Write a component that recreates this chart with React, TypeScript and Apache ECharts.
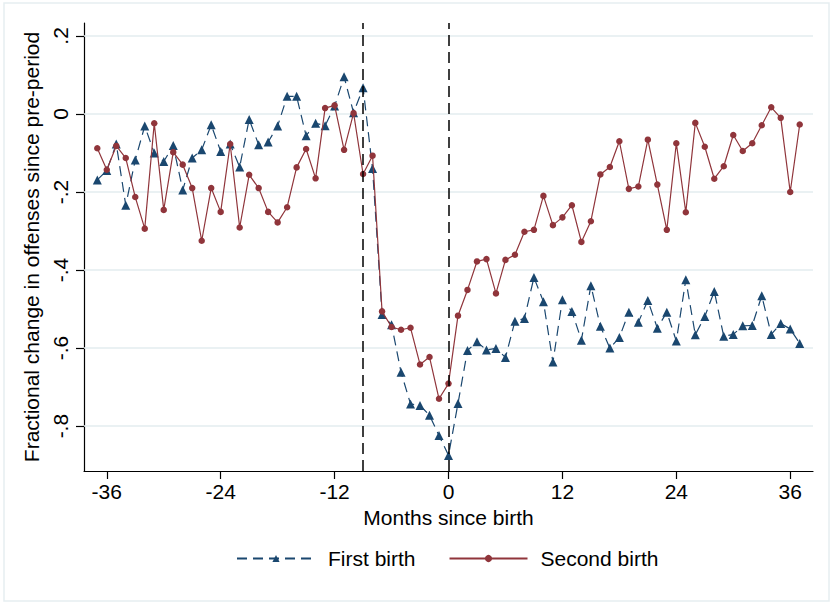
import React, { useEffect, useRef } from "react";
import * as echarts from "echarts";

// Months relative to birth, -37 .. 37
const months: number[] = Array.from({ length: 75 }, (_, i) => i - 37);

const firstBirth: number[] = [
  -0.169, -0.145, -0.077, -0.234, -0.118, -0.031, -0.1, -0.122, -0.081, -0.195,
  -0.113, -0.092, -0.028, -0.096, -0.077, -0.136, -0.014, -0.079, -0.072, -0.031,
  0.045, 0.045, -0.056, -0.024, -0.03, 0.02, 0.095, 0.003, 0.067, -0.14,
  -0.514, -0.54, -0.662, -0.743, -0.747, -0.772, -0.824, -0.875, -0.742, -0.606,
  -0.584, -0.605, -0.601, -0.624, -0.531, -0.524, -0.419, -0.481, -0.636, -0.476,
  -0.506, -0.58, -0.44, -0.544, -0.6, -0.573, -0.508, -0.534, -0.478, -0.549,
  -0.508, -0.582, -0.425, -0.566, -0.519, -0.455, -0.57, -0.565, -0.543, -0.542,
  -0.466, -0.565, -0.537, -0.551, -0.588,
];

const secondBirth: number[] = [
  -0.088, -0.143, -0.082, -0.113, -0.213, -0.294, -0.024, -0.246, -0.098, -0.13,
  -0.19, -0.325, -0.19, -0.251, -0.077, -0.291, -0.156, -0.19, -0.251, -0.278,
  -0.239, -0.137, -0.09, -0.165, 0.015, 0.022, -0.092, 0.002, -0.154, -0.107,
  -0.506, -0.546, -0.553, -0.548, -0.642, -0.623, -0.73, -0.691, -0.517, -0.451,
  -0.378, -0.372, -0.46, -0.374, -0.361, -0.302, -0.297, -0.21, -0.285, -0.265,
  -0.234, -0.328, -0.275, -0.155, -0.136, -0.07, -0.192, -0.186, -0.066, -0.181,
  -0.297, -0.075, -0.252, -0.023, -0.084, -0.166, -0.134, -0.054, -0.095, -0.075,
  -0.029, 0.017, -0.01, -0.2, -0.027,
];

const xTicks: number[] = [-36, -24, -12, 0, 12, 24, 36];
const yTicks: number[] = [-0.8, -0.6, -0.4, -0.2, 0, 0.2];
const yTickLabels: string[] = ["-.8", "-.6", "-.4", "-.2", "0", ".2"];
const eventLines: number[] = [-9, 0];

const FONT = '"Liberation Sans", Arial, sans-serif';
const FS = 21;
const BLUE = "#1a476f";
const RED = "#90353b";

export default function App() {
  const ref = useRef<HTMLDivElement>(null);

  useEffect(() => {
    if (!ref.current) return;
    const chart = echarts.init(ref.current, null, { renderer: "svg" });

    const fmtY = (v: number) => {
      const idx = yTicks.findIndex((t) => Math.abs(t - v) < 1e-6);
      return idx >= 0 ? yTickLabels[idx] : "";
    };

    chart.setOption({
      animation: false,
      backgroundColor: "#ffffff",
      textStyle: { fontFamily: FONT },
      graphic: [
        {
          type: "rect",
          shape: { x: 4, y: 3, width: 825, height: 598 },
          style: { fill: "none", stroke: "#e6eef1", lineWidth: 1.5 },
          silent: true,
        },
      ],
      grid: { left: 84, right: 20, top: 23, bottom: 134 },
      xAxis: {
        type: "value",
        min: -38.4,
        max: 38.4,
        name: "Months since birth",
        nameLocation: "middle",
        nameGap: 29,
        nameTextStyle: { fontSize: FS, color: "#000", fontFamily: FONT },
        axisLine: { show: true, onZero: false, lineStyle: { color: "#000", width: 1.2 } },
        axisTick: { show: true, length: 8, customValues: xTicks, lineStyle: { color: "#000", width: 1.2 } },
        axisLabel: { customValues: xTicks, fontSize: FS, color: "#000", margin: 10, fontFamily: FONT },
        splitLine: { show: false },
      },
      yAxis: {
        type: "value",
        min: -0.915,
        max: 0.233,
        name: "Fractional change in offenses since pre-period",
        nameLocation: "middle",
        nameRotate: 90,
        nameGap: 36,
        nameTextStyle: { fontSize: FS, color: "#000", fontFamily: FONT },
        axisLine: { show: true, onZero: false, lineStyle: { color: "#000", width: 1.2 } },
        axisTick: { show: true, length: 8, customValues: yTicks, lineStyle: { color: "#000", width: 1.2 } },
        axisLabel: {
          customValues: yTicks,
          rotate: 90,
          fontSize: FS,
          color: "#000",
          margin: 13,
          fontFamily: FONT,
          formatter: (v: number) => fmtY(v),
        },
        splitLine: { show: false },
      },
      legend: {
        left: 231,
        top: 543,
        itemWidth: 78,
        itemHeight: 9,
        itemGap: 33,
        textStyle: { fontSize: FS, color: "#000", fontFamily: FONT, padding: [0, 0, 0, 8] },
        data: ["First birth", "Second birth"],
      },
      series: [
        {
          name: "First birth",
          type: "line",
          data: months.map((m, i) => [m, firstBirth[i]]),
          symbol: "triangle",
          symbolSize: 9,
          itemStyle: { color: BLUE },
          lineStyle: { color: BLUE, width: 1.2, type: [10, 6] },
          z: 3,
          // light horizontal grid lines at the y tick values, kept beneath the data
          markLine: {
            silent: true,
            z: 1,
            symbol: "none",
            label: { show: false },
            lineStyle: { color: "#e3edef", width: 1.5, type: "solid" },
            data: yTicks.map((y) => ({ yAxis: y })),
          },
        },
        {
          name: "Second birth",
          type: "line",
          data: months.map((m, i) => [m, secondBirth[i]]),
          symbol: "circle",
          symbolSize: 6.5,
          itemStyle: { color: RED },
          lineStyle: { color: RED, width: 1.2 },
          z: 4,
          markLine: {
            silent: true,
            symbol: "none",
            label: { show: false },
            lineStyle: { color: "#000", width: 1.5, type: [11, 6] },
            data: eventLines.map((x) => ({ xAxis: x })),
          },
        },
      ],
    });

    return () => chart.dispose();
  }, []);

  return (
    <div
      ref={ref}
      style={{ position: "absolute", left: 0, top: 0, width: 833, height: 605 }}
    />
  );
}
